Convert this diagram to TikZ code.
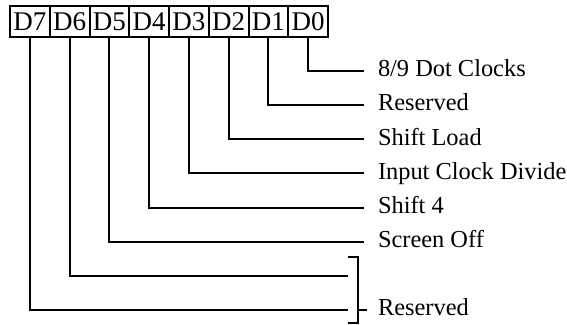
\documentclass[tikz,border=0pt]{standalone}
\usepackage{fontspec}
\setmainfont{Liberation Serif}
\begin{document}
\begin{tikzpicture}[x=0.5pt,y=-0.5pt,line width=1pt,
  bitbox/.style={draw,minimum width=19.875pt,minimum height=15.5pt,inner sep=0pt,anchor=north west,font=\fontsize{13.5}{15}\selectfont},
  lbl/.style={anchor=west,inner xsep=6.5pt,inner ysep=0pt,text height=8pt,text depth=2.4pt,font=\fontsize{12.2}{14}\selectfont}]
\useasboundingbox (0,0) rectangle (567,325);
\foreach \i in {0,...,7} \node[bitbox] (b\i) at ({9+(7-\i)*39.75},5) {D\i};
\node[lbl] (l0) at (364,71) {8/9 Dot Clocks};
\node[lbl] (l1) at (364,105) {Reserved};
\node[lbl] (l2) at (364,139.5) {Shift Load};
\node[lbl] (l3) at (364,173.5) {Input Clock Divide};
\node[lbl] (l4) at (364,208) {Shift 4};
\node[lbl] (l5) at (364,242) {Screen Off};
\foreach \i in {0,...,5} \draw (b\i.south) |- (l\i.west);
\coordinate (e6) at (348,276);
\coordinate (e7) at (348,310);
\draw (b6.south) |- (e6);
\draw (b7.south) |- (e7);
\coordinate (bt) at (348,257);
\coordinate (btr) at (358,257);
\coordinate (bbr) at (358,323.5);
\coordinate (bb) at (348,323.5);
\coordinate (bm) at (358,310);
\draw (bt) -- (btr) -- (bbr) -- (bb);
\node[lbl,inner xsep=5pt] (l67) at (367,310) {Reserved};
\draw (bm) -- (l67.west);
\end{tikzpicture}
\end{document}
